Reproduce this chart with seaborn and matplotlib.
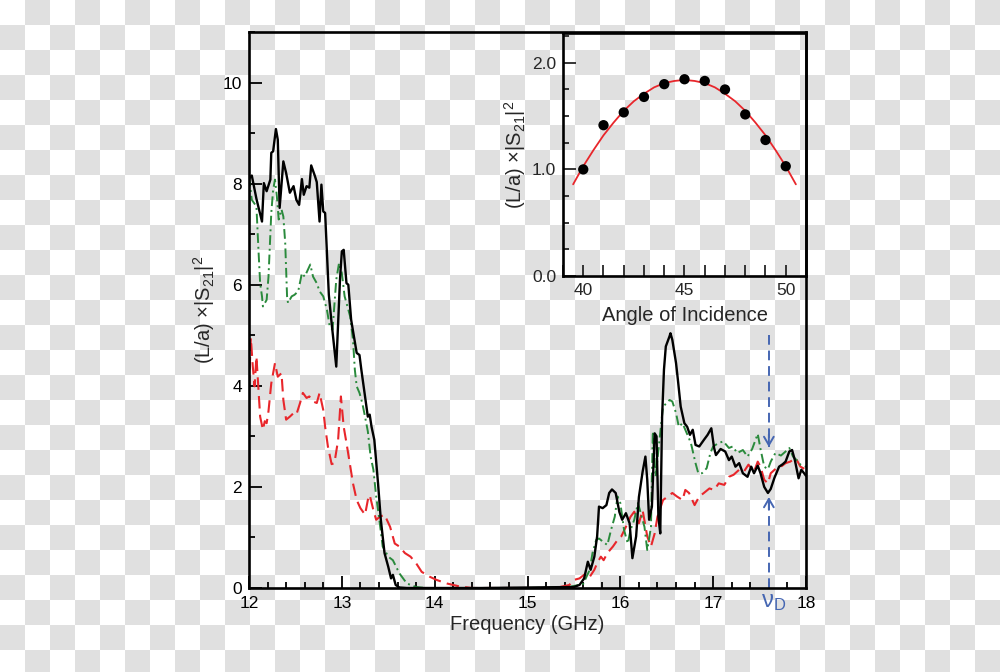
import numpy as np
import matplotlib
matplotlib.use('Agg')
import matplotlib.pyplot as plt
from matplotlib.colors import ListedColormap
from matplotlib.ticker import MultipleLocator, FormatStrFormatter
import seaborn as sns

# transmission spectra: frequency (GHz) / (L/a)|S21|^2
f_black = [12.00, 12.03, 12.08, 12.14, 12.16, 12.19, 12.23, 12.24, 12.26, 12.29, 12.31, 12.33,
           12.37, 12.40, 12.44, 12.48, 12.51, 12.54, 12.57, 12.59, 12.62, 12.65, 12.67, 12.71,
           12.73, 12.76, 12.78, 12.80, 12.82, 12.84, 12.86, 12.89, 12.94, 12.98, 13.00, 13.02,
           13.05, 13.07, 13.10, 13.16, 13.19, 13.21, 13.26, 13.28, 13.30, 13.32, 13.35, 13.39,
           13.42, 13.46, 13.50, 13.53, 13.55, 13.58, 13.62, 13.70, 14.50, 15.50, 15.56, 15.61,
           15.65, 15.68, 15.72, 15.75, 15.77, 15.81, 15.85, 15.88, 15.91, 15.95, 15.99, 16.02,
           16.06, 16.10, 16.13, 16.17, 16.20, 16.24, 16.27, 16.29, 16.31, 16.34, 16.37, 16.39,
           16.41, 16.43, 16.45, 16.47, 16.49, 16.53, 16.54, 16.56, 16.60, 16.62, 16.65, 16.69,
           16.72, 16.75, 16.78, 16.81, 16.85, 16.90, 16.94, 16.98, 17.01, 17.03, 17.08, 17.13,
           17.17, 17.20, 17.24, 17.28, 17.32, 17.37, 17.41, 17.44, 17.48, 17.51, 17.55, 17.59,
           17.62, 17.66, 17.71, 17.75, 17.78, 17.82, 17.85, 17.88, 17.92, 17.95, 18.00]
v_black = [8.10, 8.16, 7.70, 7.25, 8.01, 7.85, 8.08, 8.61, 8.64, 9.08, 8.87, 7.52,
           8.44, 8.21, 7.82, 7.95, 7.68, 7.58, 8.09, 7.78, 7.95, 7.92, 8.36, 8.15,
           8.03, 7.25, 7.98, 7.45, 7.42, 6.60, 5.80, 5.24, 4.38, 6.10, 6.66, 6.69,
           6.03, 6.00, 5.31, 4.65, 4.61, 4.32, 3.66, 3.39, 3.43, 3.19, 2.93, 2.07,
           1.35, 0.69, 0.42, 0.19, 0.26, 0.06, 0.01, 0.00, 0.00, 0.02, 0.06, 0.19,
           0.52, 0.36, 0.62, 1.02, 1.61, 1.58, 1.64, 1.88, 1.95, 1.88, 1.50, 1.35,
           1.48, 1.28, 0.59, 1.02, 1.80, 2.30, 2.60, 2.14, 1.35, 1.61, 3.06, 3.00,
           1.41, 1.08, 3.39, 4.32, 4.78, 4.98, 5.04, 4.91, 4.45, 4.12, 3.59, 3.26,
           3.19, 3.03, 3.13, 2.83, 2.80, 2.93, 3.03, 3.16, 2.77, 2.63, 2.75, 2.70,
           2.53, 2.60, 2.40, 2.47, 2.27, 2.20, 2.40, 2.27, 2.42, 2.27, 2.00, 1.88,
           1.96, 2.18, 2.40, 2.45, 2.50, 2.70, 2.73, 2.53, 2.17, 2.34, 2.22]

f_green = [12.00, 12.03, 12.08, 12.10, 12.12, 12.14, 12.15, 12.19, 12.21, 12.24, 12.26, 12.28,
           12.30, 12.32, 12.35, 12.37, 12.39, 12.41, 12.42, 12.46, 12.49, 12.53, 12.57, 12.60,
           12.66, 12.69, 12.73, 12.76, 12.80, 12.84, 12.87, 12.90, 12.94, 12.97, 13.00, 13.03,
           13.05, 13.09, 13.12, 13.14, 13.16, 13.19, 13.22, 13.25, 13.28, 13.31, 13.34, 13.37,
           13.40, 13.44, 13.50, 13.55, 13.62, 13.70, 13.80, 13.90, 15.00, 15.45, 15.60, 15.67,
           15.70, 15.74, 15.77, 15.81, 15.86, 15.90, 15.94, 15.97, 16.00, 16.04, 16.08, 16.11,
           16.15, 16.19, 16.22, 16.26, 16.29, 16.33, 16.35, 16.38, 16.42, 16.46, 16.50, 16.53,
           16.56, 16.60, 16.63, 16.67, 16.70, 16.76, 16.81, 16.84, 16.88, 16.93, 16.97, 17.00,
           17.06, 17.11, 17.17, 17.21, 17.26, 17.32, 17.37, 17.42, 17.48, 17.51, 17.55, 17.59,
           17.62, 17.67, 17.73, 17.78, 17.82, 17.86, 17.90, 17.94, 18.00]
v_green = [8.14, 7.68, 7.55, 6.76, 6.03, 5.77, 5.57, 5.70, 6.16, 7.42, 7.88, 8.08,
           7.75, 7.29, 7.49, 7.35, 6.83, 5.77, 5.64, 5.77, 5.80, 5.87, 6.23, 6.16,
           6.40, 6.16, 6.03, 5.87, 5.77, 5.50, 5.17, 5.11, 6.10, 6.43, 6.23, 5.77,
           5.64, 5.37, 4.91, 4.32, 3.99, 3.86, 3.66, 3.39, 3.10, 2.60, 2.34, 1.81,
           1.41, 0.82, 0.62, 0.55, 0.29, 0.09, 0.02, 0.00, 0.00, 0.02, 0.08, 0.36,
           0.69, 0.95, 0.98, 0.92, 0.85, 1.15, 1.41, 1.81, 1.68, 1.15, 0.88, 1.15,
           1.35, 1.68, 1.48, 1.21, 0.75, 1.21, 3.10, 2.20, 2.90, 3.59, 3.66, 3.72,
           3.69, 3.46, 3.19, 3.26, 3.13, 2.87, 2.47, 2.27, 2.27, 2.37, 2.67, 2.80,
           2.87, 2.90, 2.77, 2.80, 2.67, 2.73, 2.60, 2.75, 3.05, 2.75, 2.40, 2.35,
           2.50, 2.67, 2.62, 2.70, 2.77, 2.60, 2.53, 2.44, 2.40]

f_red = [12.00, 12.02, 12.04, 12.06, 12.08, 12.10, 12.12, 12.15, 12.17, 12.19, 12.21, 12.24,
         12.28, 12.31, 12.35, 12.37, 12.40, 12.44, 12.48, 12.51, 12.55, 12.58, 12.62, 12.65,
         12.69, 12.73, 12.76, 12.80, 12.82, 12.85, 12.89, 12.92, 12.96, 12.99, 13.02, 13.05,
         13.08, 13.12, 13.16, 13.20, 13.25, 13.28, 13.30, 13.34, 13.37, 13.41, 13.46, 13.52,
         13.57, 13.62, 13.68, 13.74, 13.80, 13.86, 13.95, 14.02, 14.13, 14.27, 14.40, 15.30,
         15.45, 15.50, 15.56, 15.63, 15.67, 15.72, 15.75, 15.79, 15.82, 15.86, 15.92, 15.97,
         16.01, 16.06, 16.11, 16.15, 16.20, 16.24, 16.29, 16.33, 16.37, 16.40, 16.46, 16.51,
         16.56, 16.61, 16.67, 16.70, 16.74, 16.80, 16.85, 16.90, 16.96, 17.01, 17.06, 17.12,
         17.17, 17.22, 17.28, 17.33, 17.38, 17.44, 17.48, 17.51, 17.55, 17.59, 17.62, 17.68,
         17.73, 17.78, 17.83, 17.89, 17.94, 18.00]
v_red = [3.95, 4.95, 4.40, 3.99, 4.58, 3.99, 3.39, 3.13, 3.30, 3.26, 3.50, 4.05,
         4.45, 4.18, 4.25, 3.72, 3.33, 3.39, 3.46, 3.43, 3.66, 3.86, 3.76, 3.79,
         3.69, 3.66, 3.86, 3.52, 3.19, 2.80, 2.45, 2.47, 2.93, 3.79, 3.19, 2.87,
         2.53, 2.07, 1.74, 1.58, 1.45, 1.74, 1.84, 1.54, 1.35, 1.41, 1.45, 1.21,
         0.88, 0.82, 0.69, 0.62, 0.49, 0.32, 0.22, 0.16, 0.09, 0.03, 0.00, 0.00,
         0.06, 0.16, 0.19, 0.29, 0.22, 0.36, 0.49, 0.62, 0.55, 0.69, 0.82, 0.95,
         1.02, 1.21, 1.41, 1.51, 1.28, 1.54, 1.02, 0.82, 1.08, 1.41, 1.74, 1.81,
         1.88, 1.81, 1.74, 1.94, 1.88, 1.64, 1.81, 1.88, 1.97, 1.94, 2.07, 2.04,
         2.20, 2.24, 2.34, 2.30, 2.44, 2.30, 2.50, 2.40, 2.14, 2.07, 2.27, 2.37,
         2.40, 2.47, 2.50, 2.57, 2.40, 2.34]

# inset: peak value vs angle of incidence, and the fitted curve
angle = [40, 41, 42, 43, 44, 45, 46, 47, 48, 49, 50]
peak = [1.00, 1.415, 1.535, 1.68, 1.80, 1.846, 1.83, 1.75, 1.516, 1.276, 1.03]
fit_angle = [39.5, 40, 40.5, 41, 41.5, 42, 42.5, 43, 43.5, 44, 44.5, 45,
             45.5, 46, 46.5, 47, 47.5, 48, 48.5, 49, 49.5, 50, 50.5]
fit_peak = [0.86, 1.03, 1.18, 1.32, 1.44, 1.55, 1.64, 1.71, 1.77, 1.81, 1.83, 1.84,
            1.83, 1.81, 1.77, 1.71, 1.64, 1.55, 1.44, 1.32, 1.18, 1.03, 0.86]

# Dirac frequency marker
nu_D = 17.6
arrow_top = [5.0, 2.79]
arrow_bottom = [0.0, 1.80]

sns.set_style('ticks')
plt.rcParams['font.family'] = ['Liberation Sans', 'DejaVu Sans']
plt.rcParams['mathtext.fontset'] = 'custom'
plt.rcParams['mathtext.rm'] = 'Liberation Sans'
plt.rcParams['mathtext.it'] = 'Liberation Sans:italic'
plt.rcParams['mathtext.bf'] = 'Liberation Sans:bold'

fig = plt.figure(figsize=(10, 6.72), dpi=100)

# checkered "transparent" backdrop
bg = fig.add_axes([0, 0, 1, 1], zorder=-10)
board = (np.indices((27, 40)).sum(axis=0) % 2)
bg.imshow(board, cmap=ListedColormap(['white', '#e0e0e0']), extent=(0, 1000, 675, 0),
          interpolation='nearest', aspect='auto')
bg.set_xlim(0, 1000)
bg.set_ylim(672, 0)
bg.axis('off')

ax = fig.add_axes([0.249, 0.125, 0.557, 0.8274])
ax.set_facecolor('none')
red = '#e8262b'
green = '#2a8a3c'
blue = '#4566b2'

sns.lineplot(x=f_red, y=v_red, ax=ax, color=red, lw=1.5,
             linestyle=(0, (6, 3)))
sns.lineplot(x=f_green, y=v_green, ax=ax, color=green, lw=1.4,
             linestyle=(0, (5, 2, 1, 2)))
sns.lineplot(x=f_black, y=v_black, ax=ax, color='black', lw=1.7)

ax.set_xlim(12, 18)
ax.set_ylim(0, 11)
ax.xaxis.set_major_locator(MultipleLocator(1))
ax.xaxis.set_minor_locator(MultipleLocator(0.2))
ax.yaxis.set_major_locator(MultipleLocator(2))
ax.yaxis.set_minor_locator(MultipleLocator(1))
ax.tick_params(which='both', direction='in', width=1.3, labelsize=12.5,
               top=False, right=False, colors='black')
ax.tick_params(which='major', length=9)
ax.tick_params(which='minor', length=4.5)
ax.tick_params(axis='x', pad=6)
ax.tick_params(axis='y', pad=5)
for s in ax.spines.values():
    s.set_linewidth(1.9)
    s.set_color('black')
xl = ax.get_xticklabels()
xl[0].set_horizontalalignment('left')
xl[-1].set_horizontalalignment('right')
ax.set_xlabel('Frequency (GHz)', fontsize=14.5, labelpad=3)
ax.set_ylabel('(L/a) ×|S$_{21}$|$^{2}$', fontsize=14.5, labelpad=4)

# nu_D marker arrows
ax.plot([nu_D, nu_D], arrow_top, color=blue, lw=1.4, ls=(0, (5, 3)))
ax.plot([nu_D, nu_D], arrow_bottom, color=blue, lw=1.4, ls=(0, (5, 3)))
ax.annotate('', xy=(nu_D, arrow_top[1]), xytext=(nu_D, arrow_top[1] + 0.25),
            arrowprops=dict(arrowstyle='->,head_width=0.35,head_length=0.6',
                            color=blue, lw=1.4, shrinkA=0, shrinkB=0))
ax.annotate('', xy=(nu_D, arrow_bottom[1]), xytext=(nu_D, arrow_bottom[1] - 0.25),
            arrowprops=dict(arrowstyle='->,head_width=0.35,head_length=0.6',
                            color=blue, lw=1.4, shrinkA=0, shrinkB=0))
ax.annotate('ν$_\\mathrm{D}$', xy=(nu_D, 0), xycoords='data', xytext=(-6, -2),
            textcoords='offset points', ha='left', va='top', color=blue,
            fontsize=17, annotation_clip=False)

# inset
ins = fig.add_axes([0.563, 0.5893, 0.243, 0.3616])
ins.set_facecolor('none')
sns.lineplot(x=fit_angle, y=fit_peak, ax=ins, color=red, lw=1.3)
sns.scatterplot(x=angle, y=peak, ax=ins, color='black', s=55, edgecolor='none', zorder=3)
ins.set_xlim(39, 51)
ins.set_ylim(0, 2.28)
ins.xaxis.set_major_locator(MultipleLocator(5))
ins.xaxis.set_minor_locator(MultipleLocator(1))
ins.yaxis.set_major_locator(MultipleLocator(1))
ins.yaxis.set_minor_locator(MultipleLocator(0.25))
ins.yaxis.set_major_formatter(FormatStrFormatter('%.1f'))
ins.tick_params(which='both', direction='in', width=1.3, labelsize=12.5,
                top=False, right=False)
ins.tick_params(axis='x', which='both', length=8, pad=5)
ins.tick_params(axis='y', which='major', length=9, pad=5)
ins.tick_params(axis='y', which='minor', length=4.5)
for s in ins.spines.values():
    s.set_linewidth(1.9)
    s.set_color('black')
ins.set_xlabel('Angle of Incidence', fontsize=14.5, labelpad=6)
ins.set_ylabel('(L/a) ×|S$_{21}$|$^{2}$', fontsize=14.5, labelpad=3)

fig.savefig('out.png', dpi=100)
